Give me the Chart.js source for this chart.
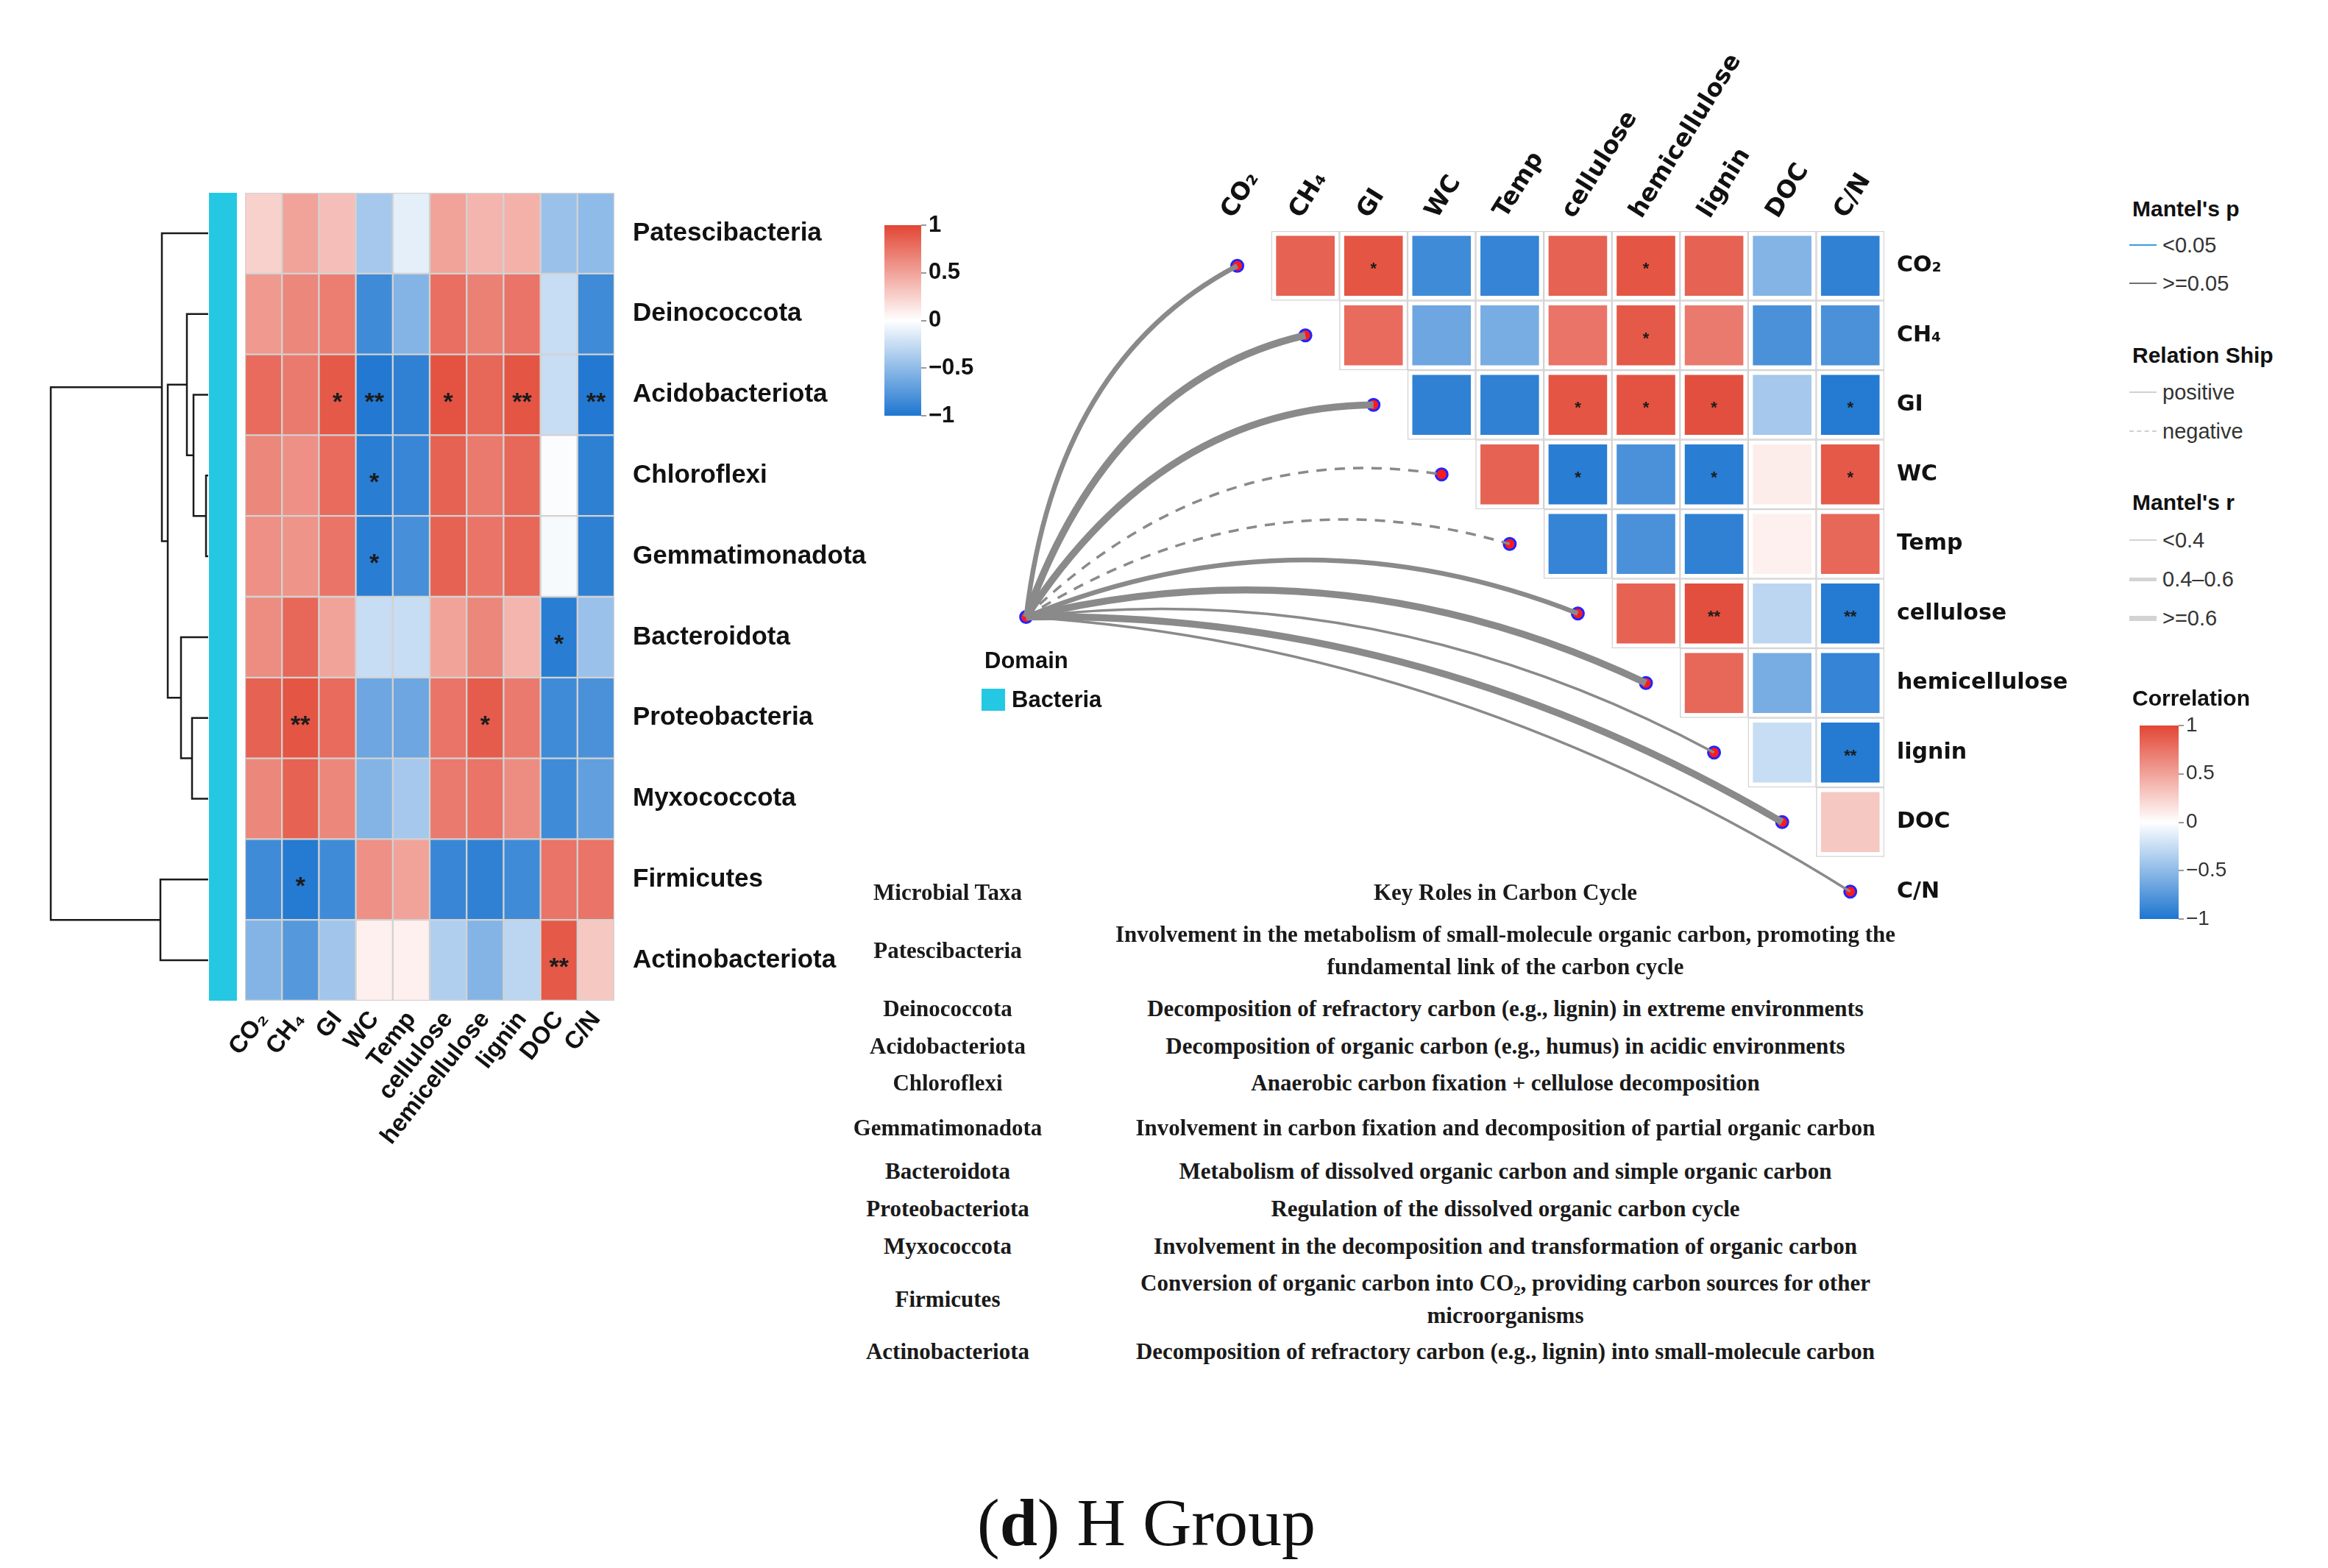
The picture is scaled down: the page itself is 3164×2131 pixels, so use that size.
<!DOCTYPE html>
<html>
<head>
<meta charset="utf-8">
<title>H Group</title>
<script src="https://cdn.jsdelivr.net/npm/chart.js@4.4.1/dist/chart.umd.min.js"></script>
<style>
  html, body { margin: 0; padding: 0; background: #fff; }
  body { position: relative; width: 3164px; height: 2131px; overflow: hidden; font-family: "Liberation Sans", Arial, sans-serif; }
  canvas { position: absolute; }
  .txt { position: absolute; white-space: nowrap; transform: translateY(-50%); }
  .ctr { position: absolute; transform: translate(-50%, -50%); text-align: center; }
  .tbl { font-family: "Liberation Serif", "Times New Roman", serif; font-weight: bold; font-size: 31px; color: #1a1a1a; line-height: 44px; }
  .lgt { font-weight: bold; font-size: 30px; color: #111; }
  .lgi { font-size: 29px; color: #333; }
  .ln { position: absolute; width: 37px; height: 0; }
</style>
</head>
<body>
<canvas id="dendro" width="250" height="1150" style="left:50px;top:240px"></canvas>
<canvas id="annot" width="38" height="1098" style="left:284px;top:262px"></canvas>
<canvas id="heat" width="900" height="1400" style="left:300px;top:200px"></canvas>
<canvas id="cbar1" width="200" height="320" style="left:1180px;top:280px"></canvas>
<canvas id="tri" width="1530" height="1300" style="left:1330px;top:0px"></canvas>
<canvas id="cbar2" width="230" height="320" style="left:2886px;top:960px"></canvas>
<div id="overlay"></div>

<script>
// taxa (heatmap rows) and environmental factors (columns)
const taxa = ['Patescibacteria', 'Deinococcota', 'Acidobacteriota', 'Chloroflexi', 'Gemmatimonadota',
  'Bacteroidota', 'Proteobacteria', 'Myxococcota', 'Firmicutes', 'Actinobacteriota'];
const envVars = ['CO₂', 'CH₄', 'GI', 'WC', 'Temp', 'cellulose', 'hemicellulose', 'lignin', 'DOC', 'C/N'];

// correlation of each taxon with each factor
const taxaCorr = [
  [0.25, 0.50, 0.35, -0.40, -0.12, 0.50, 0.40, 0.42, -0.45, -0.50],
  [0.55, 0.65, 0.70, -0.85, -0.55, 0.78, 0.68, 0.75, -0.25, -0.85],
  [0.80, 0.72, 0.90, -0.98, -0.92, 0.93, 0.82, 0.92, -0.25, -0.98],
  [0.65, 0.60, 0.80, -0.95, -0.88, 0.85, 0.72, 0.82, -0.02, -0.93],
  [0.60, 0.58, 0.75, -0.95, -0.82, 0.85, 0.75, 0.82, -0.04, -0.93],
  [0.62, 0.82, 0.50, -0.25, -0.25, 0.50, 0.65, 0.40, -0.95, -0.45],
  [0.85, 0.92, 0.80, -0.65, -0.65, 0.75, 0.88, 0.72, -0.85, -0.80],
  [0.65, 0.85, 0.65, -0.55, -0.40, 0.72, 0.75, 0.62, -0.85, -0.70],
  [-0.85, -0.97, -0.85, 0.60, 0.50, -0.88, -0.92, -0.85, 0.75, 0.75],
  [-0.55, -0.75, -0.42, 0.08, 0.08, -0.35, -0.55, -0.30, 0.90, 0.30]
];
const taxaSig = [
  ['', '', '', '', '', '', '', '', '', ''],
  ['', '', '', '', '', '', '', '', '', ''],
  ['', '', '*', '**', '', '*', '', '**', '', '**'],
  ['', '', '', '*', '', '', '', '', '', ''],
  ['', '', '', '*', '', '', '', '', '', ''],
  ['', '', '', '', '', '', '', '', '*', ''],
  ['', '**', '', '', '', '', '*', '', '', ''],
  ['', '', '', '', '', '', '', '', '', ''],
  ['', '*', '', '', '', '', '', '', '', ''],
  ['', '', '', '', '', '', '', '', '**', '']
];

// row clustering: [node a, node b, height]; leaves are 0..9, merged nodes numbered from 10
const dendroMerges = [
  [3, 4, 3], [2, 10, 20], [1, 11, 29], [6, 7, 22], [5, 13, 37],
  [12, 14, 55], [0, 15, 63], [8, 9, 65], [16, 17, 214]
];

// factor-factor correlations, upper triangle (row r starts at column r+1)
const envCorr = [
  [0.85, 0.92, -0.85, -0.90, 0.85, 0.92, 0.85, -0.55, -0.92],
  [0.80, -0.65, -0.60, 0.75, 0.90, 0.72, -0.80, -0.80],
  [-0.92, -0.92, 0.92, 0.93, 0.95, -0.40, -0.97],
  [0.85, -0.95, -0.80, -0.95, 0.10, 0.90],
  [-0.90, -0.80, -0.92, 0.08, 0.82],
  [0.85, 0.95, -0.30, -0.97],
  [0.82, -0.60, -0.90],
  [-0.25, -0.97],
  [0.30]
];
const envSig = [
  ['', '*', '', '', '', '*', '', '', ''],
  ['', '', '', '', '*', '', '', ''],
  ['', '', '*', '*', '*', '', '*'],
  ['', '*', '', '*', '', '*'],
  ['', '', '', '', ''],
  ['', '**', '', '**'],
  ['', '', ''],
  ['', '**'],
  ['']
];

// Mantel test of the bacterial community against each factor
const mantelR = [0.52, 0.66, 0.63, 0.28, 0.25, 0.48, 0.68, 0.31, 0.72, 0.29];
const mantelP = [0.21, 0.09, 0.11, 0.46, 0.52, 0.15, 0.07, 0.38, 0.06, 0.41];
const relation = ['positive', 'positive', 'positive', 'negative', 'negative',
  'positive', 'positive', 'positive', 'positive', 'positive'];

const cbTicks = [-1, -0.5, 0, 0.5, 1];

const tableTaxa = ['Patescibacteria', 'Deinococcota', 'Acidobacteriota', 'Chloroflexi', 'Gemmatimonadota',
  'Bacteroidota', 'Proteobacteriota', 'Myxococcota', 'Firmicutes', 'Actinobacteriota'];
const tableRoles = [
  'Involvement in the metabolism of small-molecule organic carbon, promoting the fundamental link of the carbon cycle',
  'Decomposition of refractory carbon (e.g., lignin) in extreme environments',
  'Decomposition of organic carbon (e.g., humus) in acidic environments',
  'Anaerobic carbon fixation + cellulose decomposition',
  'Involvement in carbon fixation and decomposition of partial organic carbon',
  'Metabolism of dissolved organic carbon and simple organic carbon',
  'Regulation of the dissolved organic carbon cycle',
  'Involvement in the decomposition and transformation of organic carbon',
  'Conversion of organic carbon into CO₂, providing carbon sources for other microorganisms',
  'Decomposition of refractory carbon (e.g., lignin) into small-molecule carbon'
];

// ---- styling helpers ----
const SANS = '"Liberation Sans", Arial, sans-serif';
const WIDE = '"DejaVu Sans", Verdana, sans-serif';
const LO = [30, 118, 208];
const HI = [226, 70, 52];
const domainColor = '#25c8e3';

function corrColor(v) {
  const t = Math.min(1, Math.abs(v));
  const end = v < 0 ? LO : HI;
  const c = end.map(k => Math.round(255 + (k - 255) * t));
  return 'rgb(' + c.join(',') + ')';
}
function minusFmt(v) {
  return v < 0 ? '\u2212' + Math.abs(v) : String(v);
}
function linkWidth(r) {
  if (r < 0.4) return 3.5;
  if (r < 0.6) return 6.5;
  return 9.5;
}

const base = {
  responsive: false, devicePixelRatio: 1, animation: false, events: [],
  plugins: { legend: { display: false }, tooltip: { enabled: false } }
};

// asterisks on top of cells
function makeStars(cells, colOf, font, dy) {
  return {
    id: 'stars',
    afterDatasetsDraw(chart) {
      const { ctx, scales } = chart;
      ctx.save();
      ctx.font = font;
      ctx.fillStyle = '#1b1b1b';
      ctx.textAlign = 'center';
      ctx.textBaseline = 'alphabetic';
      cells.forEach((row, r) => row.forEach((s, k) => {
        if (!s) return;
        const x = scales.x.getPixelForValue(colOf(r, k));
        const y = scales.y.getPixelForValue(r + 0.5);
        ctx.fillText(s, x, y + dy);
      }));
      ctx.restore();
    }
  };
}

// ---- dendrogram ----
function dendroSegments() {
  const nodes = taxa.map((_, i) => ({ y: i + 0.5, h: 0 }));
  const segs = [];
  dendroMerges.forEach(([a, b, h]) => {
    const A = nodes[a], B = nodes[b];
    segs.push([{ x: A.h, y: A.y }, { x: h, y: A.y }, { x: h, y: B.y }, { x: B.h, y: B.y }]);
    nodes.push({ y: (A.y + B.y) / 2, h: h });
  });
  return segs;
}

new Chart(document.getElementById('dendro'), {
  type: 'scatter',
  data: {
    datasets: dendroSegments().map(pts => ({
      data: pts, showLine: true, borderColor: '#1a1a1a', borderWidth: 2.5,
      pointRadius: 0, clip: false
    }))
  },
  options: {
    ...base,
    layout: { padding: { left: 19, right: 17, top: 22, bottom: 30 } },
    scales: {
      x: { type: 'linear', reverse: true, min: 0, max: dendroMerges[dendroMerges.length - 1][2], display: false },
      y: { type: 'linear', reverse: true, min: 0, max: taxa.length, display: false }
    }
  }
});

// domain annotation column
new Chart(document.getElementById('annot'), {
  type: 'bar',
  data: {
    labels: ['Bacteria'],
    datasets: [{ data: [[0, taxa.length]], backgroundColor: domainColor, barPercentage: 1, categoryPercentage: 1 }]
  },
  options: {
    ...base,
    scales: { x: { display: false }, y: { display: false, min: 0, max: taxa.length } }
  }
});

// ---- taxa x factor heatmap ----
new Chart(document.getElementById('heat'), {
  type: 'bar',
  data: {
    labels: envVars,
    datasets: taxa.map((t, r) => ({
      label: t,
      data: envVars.map(() => 1),
      backgroundColor: taxaCorr[r].map(corrColor),
      borderColor: '#d2d2d2',
      borderWidth: 1.5,
      borderSkipped: false,
      barPercentage: 1,
      categoryPercentage: 1
    }))
  },
  options: {
    ...base,
    layout: { padding: { left: 33, top: 62, right: 0, bottom: 0 } },
    scales: {
      x: {
        stacked: true,
        grid: { display: false, drawTicks: false },
        border: { display: false },
        ticks: {
          autoSkip: false, minRotation: 52, maxRotation: 52, padding: 7, color: '#111',
          font: { family: SANS, weight: 'bold', size: 33 }
        },
        afterFit: s => { s.height = 240; s.paddingLeft = 0; s.paddingRight = 0; }
      },
      y: { stacked: true, min: 0, max: taxa.length, reverse: true, display: false },
      yLab: {
        axis: 'y', type: 'category', labels: taxa, position: 'right', offset: true,
        grid: { display: false, drawTicks: false },
        border: { display: false },
        ticks: { padding: 25, color: '#111', font: { family: SANS, weight: 'bold', size: 35 } },
        afterFit: s => { s.width = 365; s.paddingTop = 0; s.paddingBottom = 0; }
      }
    }
  },
  plugins: [makeStars(taxaSig, (r, k) => k, 'bold 34px ' + SANS, 20)]
});

// ---- colour bars ----
function colorbar(id, pad, axisWidth, font, color) {
  new Chart(document.getElementById(id), {
    type: 'bar',
    data: {
      labels: [''],
      datasets: [{
        data: [[cbTicks[0], cbTicks[cbTicks.length - 1]]],
        barPercentage: 1, categoryPercentage: 1, borderWidth: 0,
        backgroundColor: c => {
          const area = c.chart.chartArea;
          if (!area || !isFinite(area.top) || !isFinite(area.bottom)) return '#fff';
          const g = c.chart.ctx.createLinearGradient(0, area.bottom, 0, area.top);
          g.addColorStop(0, corrColor(-1));
          g.addColorStop(0.5, corrColor(0));
          g.addColorStop(1, corrColor(1));
          return g;
        }
      }]
    },
    options: {
      ...base,
      layout: { padding: pad },
      scales: {
        x: { display: false },
        y: {
          position: 'right', min: cbTicks[0], max: cbTicks[cbTicks.length - 1],
          afterBuildTicks: s => { s.ticks = cbTicks.map(v => ({ value: v })); },
          grid: { drawOnChartArea: false, drawTicks: true, tickLength: 7, color: '#9a9a9a', lineWidth: 2 },
          border: { display: false },
          ticks: { padding: 3, color: color, font: font, callback: v => minusFmt(v) },
          afterFit: s => { s.width = axisWidth; s.paddingTop = 0; s.paddingBottom = 0; }
        }
      }
    }
  });
}
colorbar('cbar1', { left: 22, top: 26, bottom: 35, right: 0 }, 128, { family: SANS, weight: 'bold', size: 31 }, '#111');
colorbar('cbar2', { left: 22, top: 26, bottom: 31, right: 0 }, 155, { family: SANS, size: 28 }, '#333');

// ---- factor correlation triangle with Mantel links ----
const domainNode = { x: -3.1, y: 5.55 };
const SAG = 75;      // bow of each link, px
const SKEW = 0.75;   // panel aspect used when bending links

const linkPlugin = {
  id: 'links',
  afterDatasetsDraw(chart) {
    const { ctx, scales } = chart;
    const sx = scales.x.getPixelForValue(domainNode.x);
    const sy = scales.y.getPixelForValue(domainNode.y);
    ctx.save();
    envVars.forEach((v, i) => {
      const ex = scales.x.getPixelForValue(i);
      const ey = scales.y.getPixelForValue(i + 0.5);
      const dx = ex - sx, dy = ey - sy;
      const nx = dy * SKEW, ny = -dx / SKEW, nl = Math.hypot(nx, ny);
      const cx = (sx + ex) / 2 + nx / nl * 2 * SAG;
      const cy = (sy + ey) / 2 + ny / nl * 2 * SAG;
      ctx.beginPath();
      ctx.moveTo(sx, sy);
      ctx.quadraticCurveTo(cx, cy, ex, ey);
      ctx.lineWidth = linkWidth(mantelR[i]);
      ctx.strokeStyle = mantelP[i] < 0.05 ? '#3a9be0' : '#8a8a8a';
      ctx.setLineDash(relation[i] === 'negative' ? [14, 11] : []);
      ctx.stroke();
    });
    ctx.restore();
  }
};

const triSets = [];
envCorr.forEach((row, r) => {
  triSets.push({
    type: 'bar', order: 3, grouped: false,
    data: row.map((v, k) => ({ x: r + 1 + k, y: [r, r + 1] })),
    backgroundColor: '#fff', borderColor: '#d4d4d4', borderWidth: 1.5, borderSkipped: false,
    barPercentage: 1, categoryPercentage: 1
  });
  triSets.push({
    type: 'bar', order: 2, grouped: false,
    data: row.map((v, k) => ({ x: r + 1 + k, y: [r + 0.07, r + 0.93] })),
    backgroundColor: row.map(corrColor), borderWidth: 0,
    barPercentage: 0.86, categoryPercentage: 1
  });
});
triSets.push({
  type: 'scatter', order: 0, clip: false,
  data: [domainNode].concat(envVars.map((_, i) => ({ x: i, y: i + 0.5 }))),
  pointRadius: 8, pointBackgroundColor: '#ff1a1a', pointBorderColor: '#2424ff', pointBorderWidth: 3
});

new Chart(document.getElementById('tri'), {
  type: 'bar',
  data: { datasets: triSets },
  options: {
    ...base,
    layout: { padding: { left: 13.7, top: 0, right: 0, bottom: 41 } },
    scales: {
      x: {
        type: 'linear', position: 'top', min: -3.65, max: 9.5, offset: false,
        grid: { display: false, drawTicks: false },
        border: { display: false },
        // labels sit a little right of the column centres
        afterBuildTicks: s => { s.ticks = envVars.map((_, i) => ({ value: i + 0.22 })); },
        ticks: {
          autoSkip: false, minRotation: 58, maxRotation: 58, padding: 10, color: '#111',
          font: { family: WIDE, weight: 'bold', size: 33 },
          callback: (v, i) => envVars[i]
        },
        afterFit: s => { s.height = 314; s.paddingLeft = 0; s.paddingRight = 0; }
      },
      y: { type: 'linear', min: 0, max: envVars.length, reverse: true, display: false },
      yLab: {
        axis: 'y', type: 'category', labels: envVars, position: 'right', offset: true,
        grid: { display: false, drawTicks: false },
        border: { display: false },
        ticks: { padding: 17, color: '#111', font: { family: WIDE, weight: 'bold', size: 30 } },
        afterFit: s => { s.width = 299; s.paddingTop = 0; s.paddingBottom = 0; }
      }
    }
  },
  plugins: [linkPlugin, makeStars(envSig, (r, k) => r + 1 + k, 'bold 22px ' + SANS, 11)]
});

// ---- legends, table and caption (html text) ----
const overlay = document.getElementById('overlay');
function add(html) { overlay.insertAdjacentHTML('beforeend', html); }

add('<div class="txt" style="left:1338px;top:898px;font-weight:bold;font-size:31px;color:#111">Domain</div>');
add('<div style="position:absolute;left:1334px;top:936px;width:32px;height:30px;background:' + domainColor + '"></div>');
add('<div class="txt" style="left:1375px;top:951px;font-weight:bold;font-size:31px;color:#111">Bacteria</div>');

const LGX = 2898;
function lgTitle(text, y) { add('<div class="txt lgt" style="left:' + LGX + 'px;top:' + y + 'px">' + text + '</div>'); }
function lgItem(text, y, lineCss) {
  add('<div class="ln" style="left:' + (LGX - 4) + 'px;top:' + y + 'px;' + lineCss + '"></div>');
  add('<div class="txt lgi" style="left:' + (LGX + 41) + 'px;top:' + y + 'px">' + text + '</div>');
}
function lineCss(w, color, dashed) {
  return 'border-top:' + w + 'px ' + (dashed ? 'dashed' : 'solid') + ' ' + color + ';margin-top:' + (-w / 2) + 'px';
}
lgTitle("Mantel's p", 284);
lgItem('&lt;0.05', 333, lineCss(2, '#3a9be0'));
lgItem('&gt;=0.05', 385, lineCss(2, '#707070'));
lgTitle('Relation Ship', 483);
lgItem('positive', 533, lineCss(2, '#d0d0d0'));
lgItem('negative', 586, lineCss(2, '#d0d0d0', true));
lgTitle("Mantel's r", 683);
[0.3, 0.5, 0.7].forEach((r, i) => {
  const w = Math.round(linkWidth(r) * 0.85 - 1);
  lgItem(['&lt;0.4', '0.4\u20130.6', '&gt;=0.6'][i], [734, 787, 840][i], lineCss(w, '#d3d3d3'));
});
lgTitle('Correlation', 949);

const tableRowY = [1292, 1371, 1422, 1472, 1533, 1592, 1643, 1694, 1766, 1837];
add('<div class="ctr tbl" style="left:1288px;top:1213px;white-space:nowrap">Microbial Taxa</div>');
add('<div class="ctr tbl" style="left:2046px;top:1213px;white-space:nowrap">Key Roles in Carbon Cycle</div>');
tableTaxa.forEach((t, i) => {
  add('<div class="ctr tbl" style="left:1288px;top:' + tableRowY[i] + 'px;white-space:nowrap">' + t + '</div>');
  add('<div class="ctr tbl" style="left:2046px;top:' + tableRowY[i] + 'px;width:1090px">' + tableRoles[i] + '</div>');
});

add('<div class="ctr" style="left:1558px;top:2069px;font-family:\'Liberation Serif\',\'Times New Roman\',serif;font-size:92px;color:#111;white-space:nowrap">(<b>d</b>) H Group</div>');
</script>
</body>
</html>
